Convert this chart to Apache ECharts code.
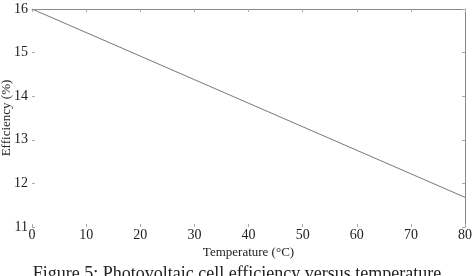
<!DOCTYPE html>
<html><head><meta charset="utf-8">
<script src="https://cdn.jsdelivr.net/npm/echarts@6/dist/echarts.min.js"></script>
<style>html,body{margin:0;padding:0;background:#fff}#c{width:474px;height:276px}</style>
</head><body><div id="c"></div>
<script>
const temperatures = [0, 10, 20, 30, 40, 50, 60, 70, 80];
const efficiency = [16.0, 15.46, 14.92, 14.38, 13.84, 13.30, 12.76, 12.22, 11.68];
const xTicks = [0, 10, 20, 30, 40, 50, 60, 70, 80];
const yTicks = [11, 12, 13, 14, 15, 16];
const xName = 'Temperature (°C)';
const yName = 'Efficiency (%)';
const caption = 'Figure 5: Photovoltaic cell efficiency versus temperature';

const font = 'Liberation Serif';
const chart = echarts.init(document.getElementById('c'));
chart.setOption({
  backgroundColor: '#fff',
  animation: false,
  grid: { left: 32, right: 9, top: 9, bottom: 49, containLabel: false, outerBoundsMode: 'none' },
  xAxis: [{
    type: 'value', min: xTicks[0], max: xTicks[xTicks.length - 1], interval: 10,
    axisLine: { show: false, onZero: false },
    axisTick: { show: true, inside: true, length: 3, lineStyle: { color: '#aaa' } },
    splitLine: { show: false },
    axisLabel: { color: '#222', fontFamily: font, fontSize: 14, margin: 1 },
    name: xName, nameLocation: 'middle', nameGap: 19, nameMoveOverlap: false,
    nameTextStyle: { color: '#222', fontFamily: font, fontSize: 13 }
  }, {
    type: 'value', position: 'top', min: 0, max: 80, interval: 10,
    axisLine: { show: true, onZero: false, lineStyle: { color: '#888', width: 1 } },
    axisTick: { show: true, inside: true, length: 3, lineStyle: { color: '#aaa' } },
    axisLabel: { show: false }, splitLine: { show: false }
  }],
  yAxis: [{
    type: 'value', min: yTicks[0], max: yTicks[yTicks.length - 1], interval: 1,
    axisLine: { show: false, onZero: false },
    axisTick: { show: true, inside: true, length: 3, lineStyle: { color: '#aaa' } },
    splitLine: { show: false },
    axisLabel: { color: '#222', fontFamily: font, fontSize: 14, margin: 4 },
    name: yName, nameLocation: 'middle', nameGap: 19, nameMoveOverlap: false,
    nameTextStyle: { color: '#222', fontFamily: font, fontSize: 13 }
  }, {
    type: 'value', position: 'right', min: 11, max: 16, interval: 1,
    axisLine: { show: true, onZero: false, lineStyle: { color: '#888', width: 1 } },
    axisTick: { show: true, inside: true, length: 3, lineStyle: { color: '#aaa' } },
    axisLabel: { show: false }, splitLine: { show: false }
  }],
  series: [{
    type: 'line', xAxisIndex: 0, yAxisIndex: 0,
    data: temperatures.map((t, i) => [t, efficiency[i]]),
    showSymbol: false, symbol: 'none',
    lineStyle: { color: '#777', width: 1 }
  }],
  graphic: [{
    type: 'text', left: 'center', top: 265,
    style: { text: caption, font: '18px "Liberation Serif"', fill: '#222' }
  }]
});
</script></body></html>
